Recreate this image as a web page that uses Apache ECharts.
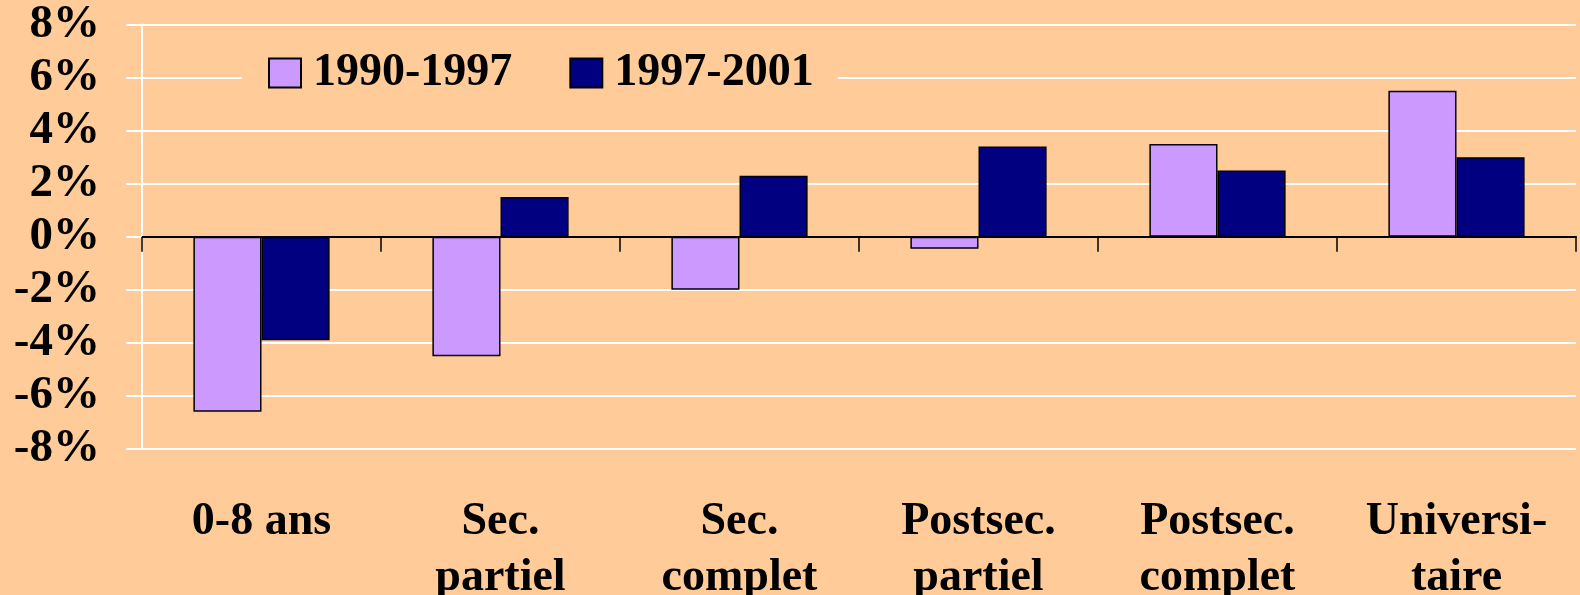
<!DOCTYPE html>
<html>
<head>
<meta charset="utf-8">
<script src="https://cdn.jsdelivr.net/npm/echarts@6/dist/echarts.min.js"></script>
<style>
  html, body { margin: 0; padding: 0; background: #ffcc99; }
  #chart { width: 1580px; height: 595px; }
</style>
</head>
<body>
<div id="chart"></div>
<script>
// 数据
const categories = ['0-8 ans', 'Sec.\npartiel', 'Sec.\ncomplet', 'Postsec.\npartiel', 'Postsec.\ncomplet', 'Universi-\ntaire']
const series1990 = [-6.6, -4.5, -2.0, -0.45, 3.5, 5.5]
const series1997 = [-3.9, 1.5, 2.3, 3.4, 2.5, 3.0]
const seriesNames = ['1990-1997', '1997-2001']

const fontFamily = "'Liberation Serif', 'Times New Roman', serif"

const chart = echarts.init(document.getElementById('chart'))

const barStyle = (color) => ({
  color: color,
  borderColor: '#000000',
  borderWidth: 1.5,
})

const option = {
  backgroundColor: '#ffcc99',
  animation: false,
  textStyle: { fontFamily: fontFamily },
  legend: {
    data: seriesNames,
    left: 242,
    top: 50,
    padding: [0, 24, 0, 26],
    backgroundColor: '#ffcc99',
    itemWidth: 32,
    itemHeight: 29,
    itemGap: 57,
    icon: 'rect',
    textStyle: {
      fontFamily: fontFamily,
      fontWeight: 'bold',
      fontSize: 46,
      lineHeight: 46,
      color: '#000000',
      padding: [0, 0, 0, 7],
    },
  },
  grid: {
    left: 142,
    right: 4,
    top: 24.5,
    bottom: 146,
    outerBoundsMode: 'none',
    containLabel: false,
  },
  xAxis: [
    {
      type: 'category',
      data: categories,
      axisLine: { onZero: true, lineStyle: { color: '#000000', width: 2 } },
      axisTick: { show: true, alignWithLabel: false, length: 15, lineStyle: { color: '#000000', width: 1.5 } },
      axisLabel: { show: false },
      splitLine: { show: false },
    },
    {
      type: 'category',
      data: categories,
      position: 'bottom',
      axisLine: { show: false, onZero: false },
      axisTick: { show: false },
      axisLabel: {
        margin: 45,
        fontFamily: fontFamily,
        fontWeight: 'bold',
        fontSize: 46,
        lineHeight: 56,
        color: '#000000',
        interval: 0,
      },
    },
  ],
  yAxis: {
    type: 'value',
    min: -8,
    max: 8,
    interval: 2,
    axisLine: { show: true, lineStyle: { color: '#ffffff', width: 2 } },
    axisTick: { show: true, length: 16, lineStyle: { color: '#ffffff', width: 2 } },
    splitLine: { show: true, lineStyle: { color: '#ffffff', width: 2 } },
    axisLabel: {
      margin: 42,
      formatter: '{value}%',
      fontFamily: fontFamily,
      fontWeight: 'bold',
      fontSize: 47,
      color: '#000000',
    },
  },
  series: [
    {
      name: seriesNames[0],
      type: 'bar',
      data: series1990,
      barGap: '0%',
      barCategoryGap: '43%',
      itemStyle: barStyle('#cc99ff'),
    },
    {
      name: seriesNames[1],
      type: 'bar',
      data: series1997,
      barGap: '0%',
      barCategoryGap: '43%',
      itemStyle: barStyle('#000080'),
    },
  ],
}

chart.setOption(option)
</script>
</body>
</html>
